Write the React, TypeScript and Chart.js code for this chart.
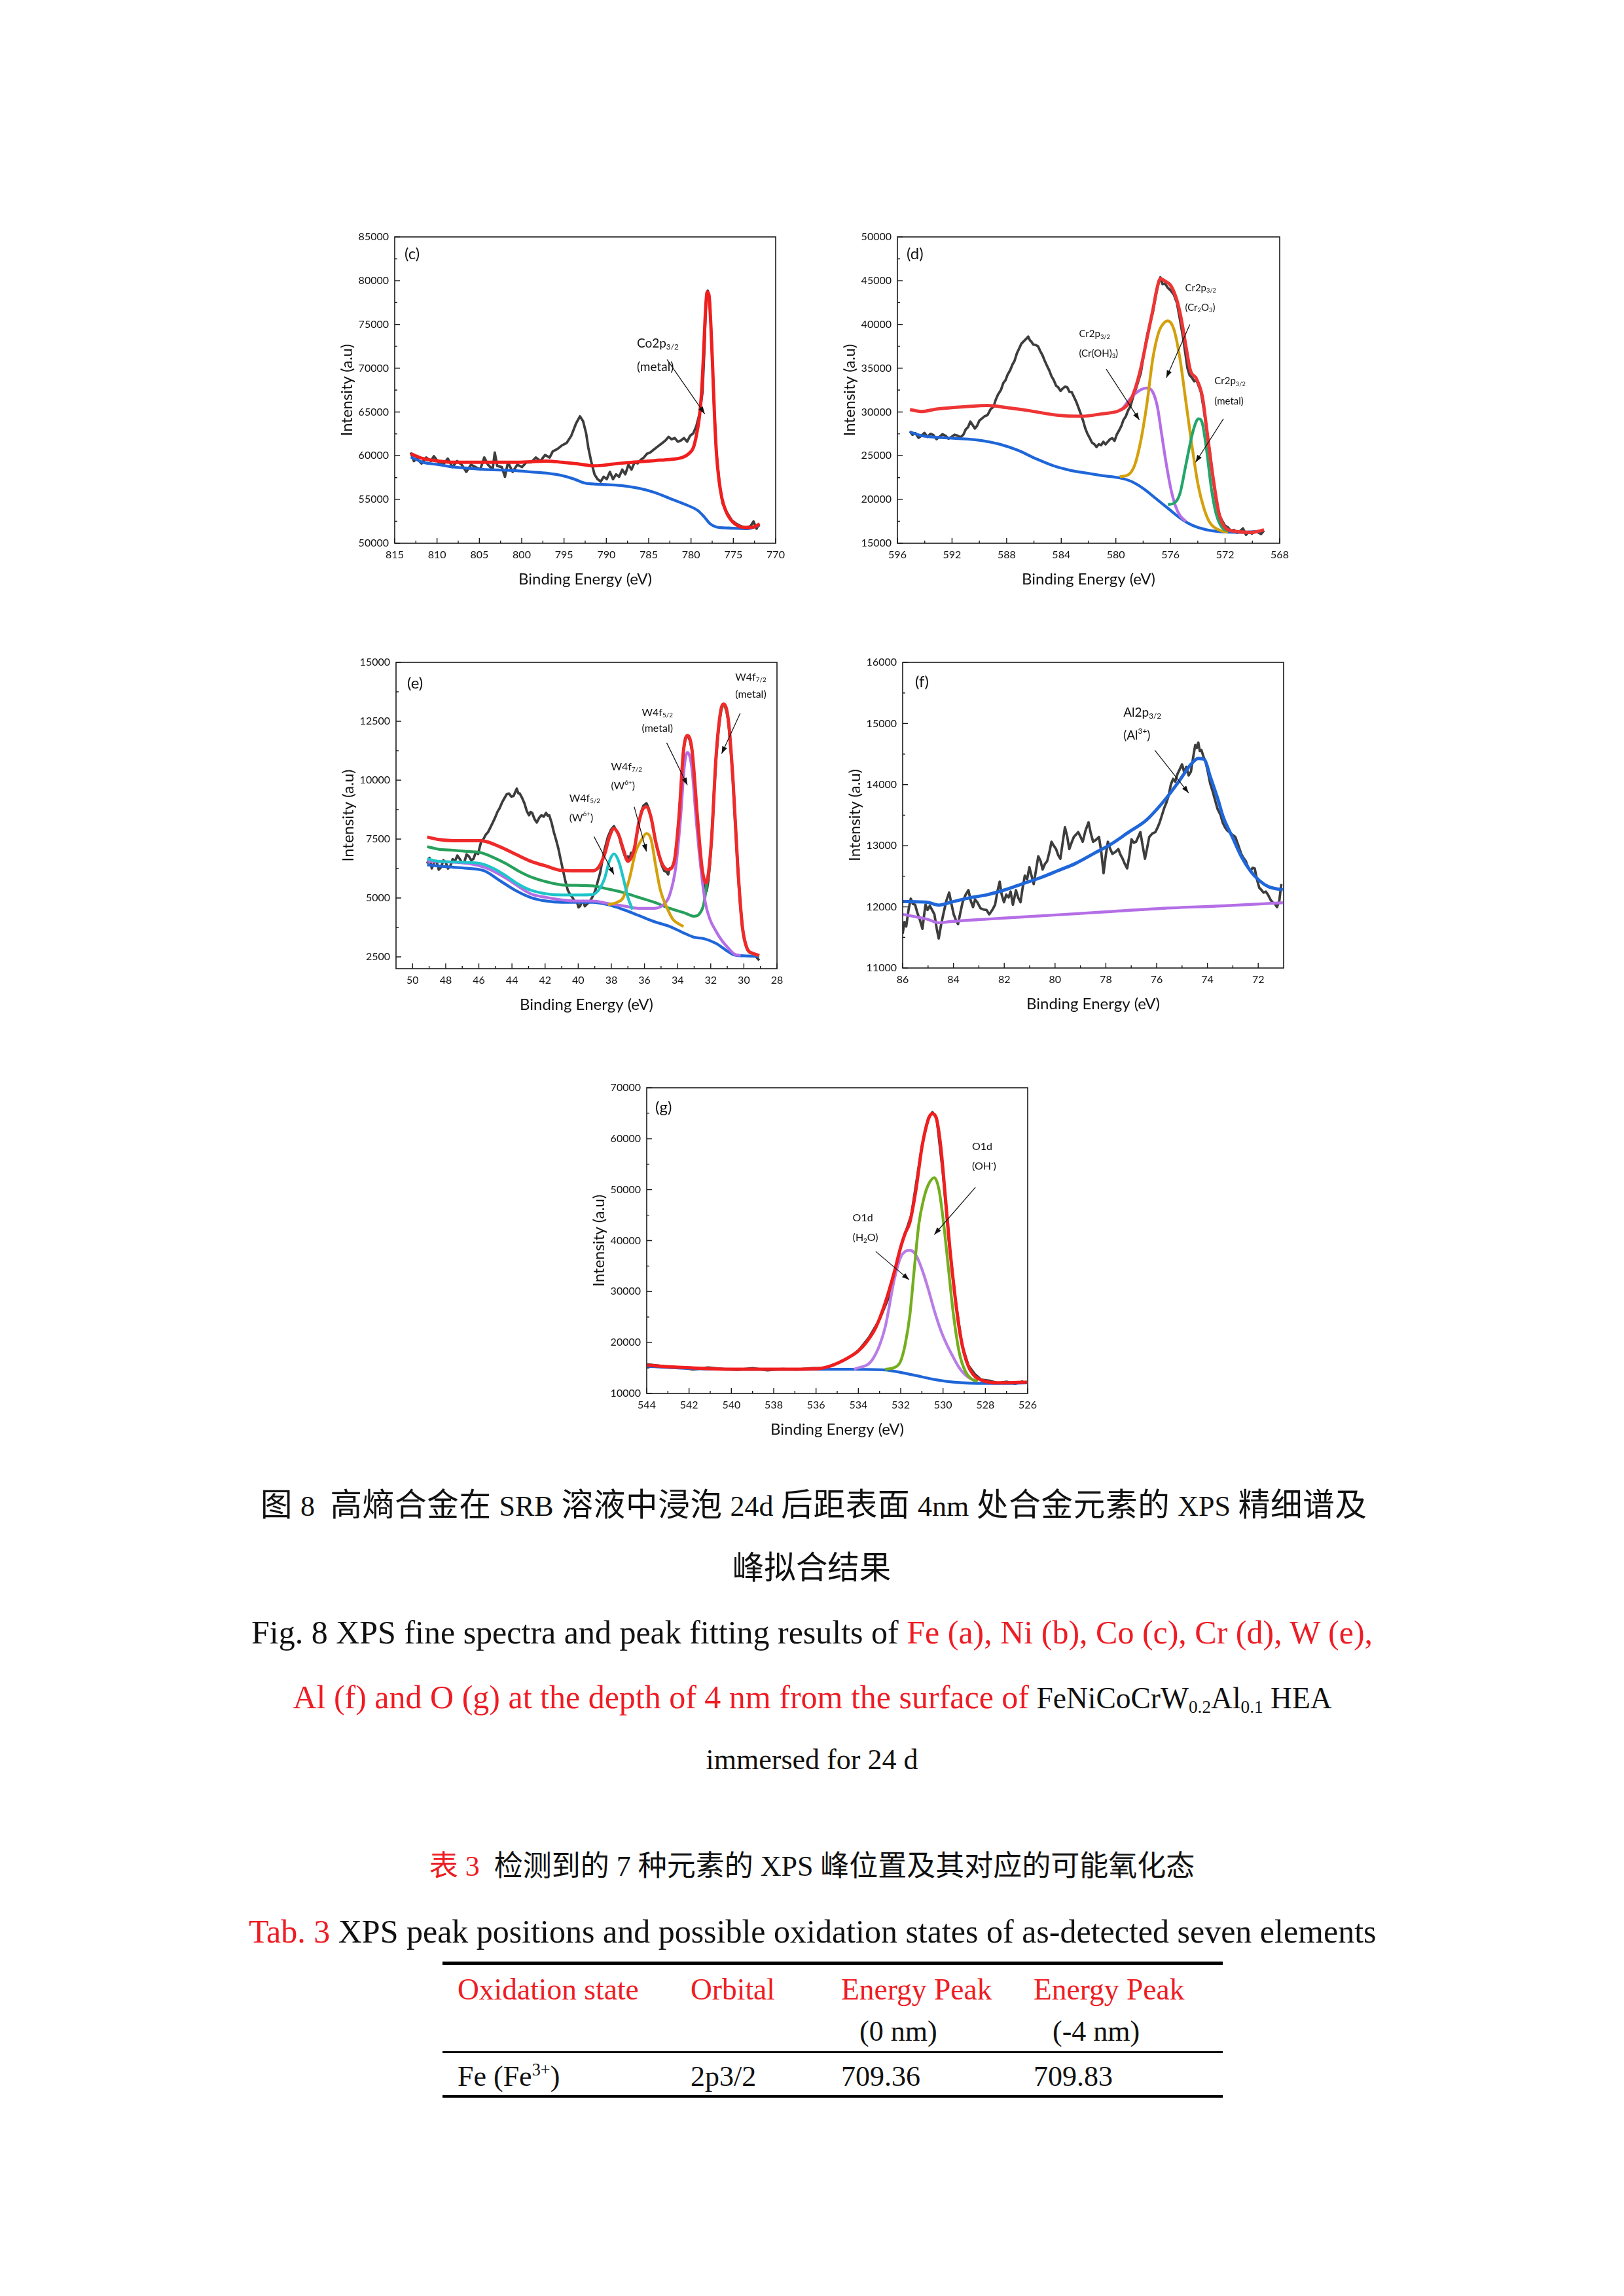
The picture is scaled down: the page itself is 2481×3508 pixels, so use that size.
import React, { useEffect, useRef } from 'react';
import { Chart, registerables } from 'chart.js';
Chart.register(...registerables);

const FONT = 'Lato, "Noto Sans", sans-serif';
const SERIF = '"Liberation Serif", "Times New Roman", "Noto Sans CJK SC", serif';
const RED_TXT = '#ee1c24';
const PAD_L = 100, PAD_R = 30, PAD_T = 25, PAD_B = 85;

const C_RAW = '#3d3d3d';
const C_RED = '#f01e1e';
const C_BLUE = '#1f66d9';
const C_PURPLE = '#b46ee6';
const C_GOLD = '#d4a00b';
const C_GREEN_D = '#23a56b';
const C_GREEN_E = '#27a05c';
const C_GREEN_G = '#74ae1e';
const C_CYAN = '#1ec5c9';

// ---------- (c) Co 2p ----------
const coXTicks = [815, 810, 805, 800, 795, 790, 785, 780, 775, 770];
const coYTicks = [50000, 55000, 60000, 65000, 70000, 75000, 80000, 85000];
const coRaw = [[813.10,60360],[812.74,59390],[812.37,59670],[811.83,59115],[811.28,59800],[810.73,59390],[810.37,59940],[809.82,59250],[809.27,58980],[808.73,59670],[808.18,58700],[807.63,59390],[807.09,58980],[806.54,58150],[805.99,58980],[805.45,58700],[804.90,58420],[804.42,59800],[803.99,58980],[803.44,58420],[803.18,60360],[802.89,58840],[802.35,58700],[801.98,57600],[801.62,59250],[801.07,58150],[800.52,58980],[799.97,58700],[799.43,59250],[798.88,59250],[798.33,59800],[797.79,59390],[797.24,60080],[796.69,59800],[796.33,60500],[795.78,60770],[795.23,61190],[794.69,61460],[794.14,62290],[793.59,63670],[793.12,64500],[792.75,63950],[792.39,62570],[792.13,60910],[791.77,59250],[791.40,57870],[791.04,57320],[790.67,57040],[790.31,57600],[789.95,57320],[789.58,58150],[789.22,57320],[788.85,57870],[788.49,57600],[788.12,58420],[787.76,57870],[787.39,58980],[787.03,58420],[786.66,59250],[786.30,59120],[785.93,59530],[785.57,59800],[785.20,60220],[784.84,60360],[784.48,60630],[784.11,60910],[783.75,61190],[783.38,61460],[783.02,61740],[782.65,62150],[782.29,61880],[781.92,62020],[781.56,61600],[781.19,61740],[780.83,62020],[780.46,61600],[780.10,62290],[779.73,62570],[779.37,63390],[779.00,64780],[778.64,67260],[778.39,72790],[778.24,77480],[778.02,78860],[777.80,77760],[777.55,72790],[777.29,65880],[777.00,60360],[776.63,56770],[776.27,54560],[775.72,53450],[775.18,52620],[774.63,52210],[774.08,51930],[773.53,51800],[772.99,51930],[772.62,52490],[772.26,51660],[771.97,52210]];
const coFit = [[813.10,60220],[811.64,59670],[809.82,59390],[808.00,59250],[806.17,59250],[804.35,59250],[802.53,59250],[800.70,59250],[798.88,59310],[797.06,59390],[795.23,59250],[793.77,59110],[792.68,58980],[791.59,58840],[790.49,58890],[789.40,59030],[787.94,59170],[786.12,59310],[784.29,59450],[782.47,59580],[781.01,59800],[780.28,60220],[779.73,60910],[779.37,62290],[779.00,64500],[778.75,67260],[778.53,71410],[778.31,76100],[778.09,78720],[777.87,78310],[777.66,75000],[777.44,70020],[777.22,64500],[777.00,60360],[776.71,57320],[776.34,55110],[775.91,53730],[775.36,52760],[774.81,52210],[774.08,51850],[773.35,51800],[772.62,51850],[771.89,52210]];
const coBkg = [[813.10,59860],[811.64,59250],[809.82,58980],[808.00,58700],[806.17,58560],[804.35,58420],[802.53,58370],[800.70,58290],[798.88,58150],[797.06,58010],[795.23,57730],[793.77,57320],[792.68,56910],[791.59,56770],[789.76,56680],[787.94,56550],[786.12,56270],[784.29,55800],[782.47,55110],[780.65,54420],[779.19,53730],[778.46,53040],[777.73,52210],[777.00,51850],[775.54,51740],[773.35,51660],[771.89,52070]];

// ---------- (d) Cr 2p ----------
const crXTicks = [596, 592, 588, 584, 580, 576, 572, 568];
const crYTicks = [15000, 20000, 25000, 30000, 35000, 40000, 45000, 50000];
const crRaw = [[595.08,27790],[594.90,27400],[594.68,27570],[594.45,27050],[594.24,27290],[594.02,27600],[593.80,27150],[593.58,27500],[593.36,27350],[593.14,26900],[592.92,27150],[592.70,27450],[592.48,27290],[592.26,26950],[592.04,27150],[591.82,27400],[591.60,27290],[591.38,27100],[591.16,27430],[591.00,28000],[590.83,28260],[590.66,28900],[590.50,28530],[590.33,28100],[590.17,28400],[590.00,29000],[589.84,29220],[589.62,29500],[589.40,29640],[589.18,30300],[588.96,30610],[588.80,31400],[588.63,31990],[588.41,32540],[588.25,33300],[588.08,33640],[587.92,34300],[587.75,34750],[587.58,35400],[587.42,35850],[587.25,36700],[587.09,37230],[586.92,37800],[586.76,38060],[586.60,38300],[586.42,38620],[586.30,38200],[586.20,38060],[586.05,37700],[585.87,37650],[585.70,37500],[585.54,36960],[585.38,36500],[585.21,35850],[585.05,35300],[584.88,34750],[584.72,34100],[584.55,33640],[584.38,33000],[584.22,32810],[584.05,32400],[583.89,32680],[583.72,32900],[583.56,32810],[583.40,32300],[583.23,32260],[583.06,31700],[582.90,31160],[582.74,30500],[582.57,29780],[582.40,29000],[582.24,28120],[582.08,27500],[581.91,27010],[581.75,26500],[581.58,26320],[581.42,26000],[581.25,26320],[581.08,26200],[580.92,26600],[580.75,26300],[580.59,26600],[580.42,26900],[580.26,27010],[580.10,26700],[579.93,27430],[579.76,27900],[579.60,28400],[579.44,29100],[579.27,29500],[579.10,30200],[578.94,30610],[578.78,31500],[578.61,32260],[578.40,33300],[578.17,34470],[577.95,36600],[577.73,38620],[577.51,40100],[577.29,41380],[577.12,42900],[576.96,44140],[576.85,44900],[576.74,45380],[576.58,44600],[576.41,44690],[576.20,44200],[575.97,43860],[575.75,43400],[575.53,42480],[575.31,40600],[575.09,38620],[574.92,36800],[574.76,35020],[574.60,34200],[574.43,33920],[574.26,33500],[574.10,33640],[573.94,33000],[573.77,32260],[573.55,30200],[573.33,27700],[573.11,25360],[572.89,22500],[572.67,19830],[572.45,18300],[572.23,17620],[572.01,17000],[571.79,16800],[571.57,16400],[571.35,16520],[571.13,16200],[570.91,16380],[570.69,16700],[570.47,15970],[570.25,16300],[570.03,16100],[569.81,16350],[569.59,16240],[569.37,16050],[569.15,16460]];
const crFit = [[595.08,30270],[594.24,30050],[593.14,30330],[590.94,30610],[589.40,30740],[588.08,30520],[586.54,30190],[584.33,29640],[582.57,29500],[581.03,29780],[579.71,30190],[579.05,31020],[578.61,32540],[578.17,35020],[577.73,38340],[577.29,41650],[576.96,44280],[576.74,45240],[576.41,44970],[575.97,44420],[575.53,42760],[575.20,40550],[574.87,37510],[574.54,34750],[574.10,33780],[573.66,31710],[573.33,27840],[572.89,22600],[572.45,18450],[572.01,16800],[571.35,16380],[570.03,16240],[569.15,16520]];
const crOH = [[579.60,30190],[578.83,31710],[578.17,32540],[577.73,32730],[577.29,32260],[576.96,30610],[576.63,27290],[576.30,23980],[575.97,21210],[575.64,19280],[575.31,18180],[574.87,17490]];
const crOx = [[579.71,22600],[579.05,22870],[578.61,23980],[578.17,26740],[577.73,30880],[577.29,36130],[576.85,39170],[576.41,40270],[576.19,40410],[575.75,39440],[575.31,36130],[574.87,31160],[574.43,26190],[573.99,21770],[573.55,19000],[573.11,17350],[572.45,16520],[571.79,16240]];
const crMet = [[576.19,19420],[575.75,19560],[575.31,20660],[574.87,23980],[574.43,27290],[574.10,28950],[573.94,29220],[573.66,28670],[573.33,25360],[573.00,21210],[572.67,18450],[572.23,16800],[571.79,16380]];
const crBkg = [[595.08,27710],[594.24,27290],[592.04,27010],[589.84,26740],[588.52,26320],[587.20,25630],[585.87,24670],[584.55,23840],[583.23,23290],[582.13,23010],[581.03,22730],[579.71,22460],[578.83,22040],[577.95,21210],[577.07,20110],[576.19,19000],[575.31,17900],[574.43,17070],[573.33,16520],[572.23,16300],[571.13,16240],[569.37,16380]];

// ---------- (e) W 4f ----------
const wXTicks = [50, 48, 46, 44, 42, 40, 38, 36, 34, 32, 30, 28];
const wYTicks = [2500, 5000, 7500, 10000, 12500, 15000];
const wRaw = [[49.12,6459],[48.98,6700],[48.84,6254],[48.70,6500],[48.56,6561],[48.42,6200],[48.28,6305],[48.14,6600],[48.00,6510],[47.86,6250],[47.72,6356],[47.58,6650],[47.44,6561],[47.30,6800],[47.16,6664],[47.02,6500],[46.88,6510],[46.74,6850],[46.60,6767],[46.46,6600],[46.32,6664],[46.18,6950],[46.04,6869],[45.95,7150],[45.86,7382],[45.72,7500],[45.58,7690],[45.44,7800],[45.30,7997],[45.16,8200],[45.02,8407],[44.88,8650],[44.74,8818],[44.60,9050],[44.46,9228],[44.32,9400],[44.18,9433],[44.04,9300],[43.90,9330],[43.80,9500],[43.71,9638],[43.62,9450],[43.53,9433],[43.39,9250],[43.25,9023],[43.11,8700],[42.97,8510],[42.88,8650],[42.78,8612],[42.64,8350],[42.50,8202],[42.36,8400],[42.22,8510],[42.08,8450],[41.94,8612],[41.85,8500],[41.75,8510],[41.61,8200],[41.47,7792],[41.33,7450],[41.19,7074],[41.05,6600],[40.91,6151],[40.77,5700],[40.63,5331],[40.49,5150],[40.35,5023],[40.21,4850],[40.07,4818],[39.98,4600],[39.88,4664],[39.79,4850],[39.70,4869],[39.60,4650],[39.51,4715],[39.38,4800],[39.24,4920],[39.10,5100],[38.96,5331],[38.82,5700],[38.68,6049],[38.54,6600],[38.40,7074],[38.21,7587],[38.02,7895],[37.84,8049],[37.70,7850],[37.56,7690],[37.42,7300],[37.28,6972],[37.14,6700],[37.00,6767],[36.90,6600],[36.81,6920],[36.72,6850],[36.62,7074],[36.48,7600],[36.34,8202],[36.20,8650],[36.06,8920],[35.88,9023],[35.74,8800],[35.60,8407],[35.46,7900],[35.32,7382],[35.13,6800],[34.94,6356],[34.80,6150],[34.66,6100],[34.57,6000],[34.48,6254],[34.34,6300],[34.20,6561],[34.06,7300],[33.92,8407],[33.78,9900],[33.64,11280],[33.52,11800],[33.40,11895],[33.27,11700],[33.13,11280],[32.97,9900],[32.80,8407],[32.66,7100],[32.52,5946],[32.42,5600],[32.33,5433],[32.24,5300],[32.14,5741],[32.05,6400],[31.96,7382],[31.82,9200],[31.68,10972],[31.54,12100],[31.40,12920],[31.30,13150],[31.21,13228],[31.07,13000],[30.93,12510],[30.79,11300],[30.65,9946],[30.51,8100],[30.37,6356],[30.23,4900],[30.09,3792],[29.95,3200],[29.81,2869],[29.63,2700],[29.44,2644],[29.26,2500],[29.07,2356]];
const wFit = [[49.12,7587],[48.47,7484],[47.54,7433],[46.60,7433],[45.86,7433],[45.49,7382],[44.74,7177],[43.81,6869],[42.87,6561],[41.94,6356],[41.01,6172],[40.07,6151],[39.14,6151],[38.77,6305],[38.40,6869],[38.12,7587],[37.84,7946],[37.56,7690],[37.28,7074],[37.00,6561],[36.62,7074],[36.34,8202],[36.06,8818],[35.88,8869],[35.60,8407],[35.32,7382],[34.94,6459],[34.57,6202],[34.20,6561],[33.92,8407],[33.64,11280],[33.40,11895],[33.13,11280],[32.80,8407],[32.52,6254],[32.28,5638],[31.96,7382],[31.68,10972],[31.40,12920],[31.21,13228],[30.93,12510],[30.65,9946],[30.37,6356],[30.09,3792],[29.81,2869],[29.44,2644],[29.07,2562]];
const wMet72 = [[49.12,7177],[48.47,7074],[47.54,7023],[46.60,6972],[45.86,6920],[45.11,6715],[44.37,6459],[43.62,6151],[42.87,5895],[41.94,5690],[41.01,5556],[40.07,5536],[39.14,5515],[38.21,5382],[37.28,5228],[36.34,5023],[35.41,4818],[34.48,4561],[33.54,4356],[32.99,4223],[32.71,4305],[32.43,4715],[32.24,5536],[32.05,6561],[31.96,7382],[31.68,10900],[31.40,12850],[31.21,13150],[30.93,12450],[30.65,9900],[30.37,6300],[30.09,3750],[29.81,2850],[29.44,2630],[29.07,2550]];
const wW652 = [[49.12,6664],[48.47,6561],[46.60,6510],[45.86,6459],[45.11,6254],[44.37,5946],[43.62,5587],[42.87,5331],[41.94,5177],[41.01,5126],[40.07,5126],[39.14,5146],[38.77,5331],[38.40,5844],[38.12,6561],[37.84,6869],[37.56,6561],[37.28,5844],[37.00,5023],[36.72,4510]];
const wMet52 = [[49.12,6561],[46.60,6459],[45.49,6254],[44.37,5844],[42.87,5177],[41.94,5023],[41.01,4920],[40.07,4869],[39.14,4869],[38.21,4767],[37.28,4664],[36.34,4561],[35.41,4561],[34.85,4715],[34.48,5126],[34.10,6356],[33.82,8407],[33.58,10664],[33.40,11177],[33.13,10459],[32.89,8407],[32.61,6356],[32.33,4818],[32.05,4100],[31.68,3587],[31.31,3177],[30.93,2869],[30.56,2613],[30.19,2562]];
const wW672 = [[38.21,4715],[37.65,4818],[37.28,5023],[36.90,5844],[36.53,6972],[36.16,7484],[35.88,7741],[35.60,7484],[35.32,6356],[35.04,5331],[34.66,4613],[34.29,4100],[33.92,3895],[33.64,3792]];
const wBkg = [[49.12,6408],[48.47,6356],[47.54,6305],[46.60,6254],[45.67,6151],[44.74,5741],[43.81,5331],[42.87,5023],[41.94,4869],[41.01,4818],[40.07,4818],[39.14,4818],[38.21,4715],[37.28,4510],[36.34,4254],[35.41,3997],[34.48,3792],[33.54,3485],[32.99,3331],[32.43,3279],[31.68,3074],[30.93,2715],[30.56,2582],[29.81,2541],[29.07,2521]];

// ---------- (f) Al 2p ----------
const alXTicks = [86, 84, 82, 80, 78, 76, 74, 72];
const alYTicks = [11000, 12000, 13000, 14000, 15000, 16000];
const alRaw = [[86.00,11562],[85.93,11750],[85.86,11680],[85.77,11950],[85.68,12135],[85.60,12050],[85.51,12036],[85.42,11900],[85.33,11799],[85.22,11641],[85.16,11850],[85.10,12036],[85.02,11950],[84.93,12017],[84.84,11950],[84.75,11878],[84.66,11650],[84.58,11483],[84.49,11700],[84.40,11878],[84.28,12100],[84.17,12234],[84.08,12050],[83.99,11878],[83.90,11780],[83.82,11720],[83.73,11900],[83.64,12076],[83.52,12200],[83.41,12274],[83.32,12100],[83.23,11997],[83.15,12120],[83.06,12076],[82.94,11980],[82.82,11957],[82.70,11950],[82.59,11878],[82.47,11950],[82.36,12036],[82.27,12250],[82.18,12412],[82.10,12200],[82.01,12076],[81.92,12200],[81.83,12155],[81.75,12250],[81.66,12036],[81.60,12150],[81.54,12274],[81.45,12150],[81.36,12076],[81.28,12300],[81.19,12511],[81.10,12450],[81.01,12650],[80.92,12500],[80.84,12373],[80.75,12600],[80.66,12828],[80.57,12750],[80.49,12610],[80.40,12700],[80.31,12749],[80.22,12900],[80.14,13065],[80.05,13000],[79.96,12946],[79.88,12850],[79.79,12788],[79.70,13050],[79.61,13302],[79.52,13150],[79.44,12946],[79.35,13050],[79.26,13144],[79.18,13180],[79.09,13223],[79.00,13150],[78.91,13065],[78.80,13250],[78.68,13382],[78.59,13200],[78.50,13065],[78.38,13100],[78.27,13144],[78.18,12900],[78.09,12551],[78.00,12850],[77.92,13065],[77.83,12950],[77.74,12867],[77.62,12900],[77.51,12946],[77.42,12850],[77.34,12788],[77.25,12700],[77.16,12630],[77.07,12850],[76.99,13105],[76.90,13050],[76.81,13065],[76.72,13150],[76.64,13223],[76.55,13000],[76.46,12788],[76.38,12950],[76.29,13144],[76.17,13200],[76.05,13223],[75.96,13300],[75.88,13382],[75.79,13500],[75.70,13619],[75.62,13700],[75.53,13817],[75.44,14000],[75.35,14094],[75.27,14050],[75.18,14173],[75.09,14250],[75.00,14331],[74.91,14200],[74.83,14291],[74.74,14150],[74.65,14212],[74.56,14450],[74.48,14647],[74.42,14600],[74.36,14687],[74.30,14550],[74.24,14568],[74.15,14450],[74.07,14371],[73.98,14200],[73.89,14014],[73.80,13900],[73.72,13777],[73.60,13600],[73.48,13500],[73.40,13380],[73.31,13302],[73.22,13250],[73.13,13223],[73.02,13180],[72.90,13144],[72.78,13000],[72.67,12867],[72.58,12800],[72.49,12749],[72.40,12650],[72.31,12590],[72.22,12640],[72.14,12630],[72.05,12450],[71.96,12313],[71.88,12280],[71.79,12234],[71.70,12250],[71.61,12195],[71.52,12120],[71.44,12076],[71.35,12050],[71.26,11997],[71.17,12100],[71.09,12373]];
const alFit = [[86.00,12088],[85.04,12076],[84.58,12029],[84.11,12076],[83.29,12155],[82.71,12195],[82.01,12274],[81.31,12373],[80.61,12472],[79.90,12590],[79.20,12709],[78.50,12867],[77.80,13025],[77.10,13223],[76.40,13421],[75.70,13738],[75.12,14054],[74.65,14331],[74.36,14430],[74.12,14410],[73.89,14133],[73.60,13777],[73.37,13461],[73.02,13144],[72.67,12828],[72.31,12590],[71.96,12432],[71.61,12333],[71.26,12294],[71.03,12282]];
const alBkg = [[86.00,11878],[85.51,11839],[85.04,11799],[84.58,11740],[84.11,11760],[82.71,11799],[80.37,11858],[78.04,11918],[75.70,11977],[73.37,12017],[71.03,12068]];

// ---------- (g) O 1s ----------
const oXTicks = [544, 542, 540, 538, 536, 534, 532, 530, 528, 526];
const oYTicks = [10000, 20000, 30000, 40000, 50000, 60000, 70000];
const oRaw = [[543.97,15700],[543.20,15350],[542.40,15100],[541.80,14700],[541.10,15100],[540.40,14800],[539.70,14650],[539.00,14950],[538.30,14550],[537.60,14800],[536.90,14700],[536.20,14950],[535.60,15000],[535.00,15900],[534.50,16900],[534.00,18400],[533.50,21000],[533.00,24500],[532.50,29500],[532.00,38800],[531.50,45000],[531.00,58500],[530.70,64000],[530.50,65200],[530.30,64000],[530.00,53000],[529.70,39000],[529.40,28000],[529.10,19500],[528.80,15500],[528.50,13800],[528.20,12700],[527.80,12500],[527.40,12000],[527.00,12300],[526.60,11900],[526.20,12400]];
const oFit = [[543.97,15554],[542.95,15222],[541.49,14937],[540.03,14747],[538.57,14747],[537.12,14747],[535.95,14842],[535.37,15317],[534.93,16030],[534.49,16980],[534.05,18165],[533.62,20060],[533.18,22912],[532.74,27660],[532.30,33830],[532.01,38577],[531.79,41425],[531.57,43560],[531.28,49970],[530.99,58514],[530.70,63736],[530.52,64923],[530.33,64210],[530.11,58514],[529.90,49020],[529.68,38577],[529.46,30033],[529.24,22912],[529.02,18165],[528.80,15317],[528.51,13418],[528.07,12468],[527.49,12089],[526.91,12089],[526.03,12231]];
const oOH = [[532.74,14747],[532.30,15079],[532.01,16266],[531.79,19589],[531.57,25285],[531.35,34779],[531.14,43324],[530.92,48071],[530.70,50919],[530.41,52343],[530.19,49970],[529.97,43324],[529.75,34779],[529.53,26235],[529.24,18165],[528.95,14367],[528.66,12848],[528.36,12373]];
const oH2O = [[534.20,14747],[533.32,16741],[532.74,22912],[532.30,32406],[532.01,36678],[531.79,37865],[531.57,38102],[531.28,37153],[530.99,34305],[530.70,30507],[530.41,26235],[530.11,22437],[529.82,19589],[529.53,17215],[529.24,15079],[528.95,13655],[528.66,12848],[528.36,12468]];
const oBkg = [[543.97,15317],[541.49,14842],[538.57,14747],[535.66,14747],[534.20,14747],[532.74,14605],[532.01,14130],[531.28,13513],[530.55,12848],[529.82,12373],[529.09,12089],[528.36,11994],[526.91,11994],[526.03,12089]];

type Seg = { t: string; sub?: boolean; sup?: boolean };
type AnnLine = { y: number; segs: Seg[] };
type Ann = { x: number; lines: AnnLine[]; arrow: number[]; size: number };
type Series = { data: number[][]; color: string; width: number; raw?: boolean; order: number };
type Panel = {
  label: string; L: number; T: number; W: number; H: number;
  xMin: number; xMax: number; yMin: number; yMax: number;
  xTicks: number[]; yTicks: number[]; series: Series[]; anns: Ann[];
  labelDx: number; labelDy: number;
};

const p32: Seg = { t: '3/2', sub: true };
const RAW_W = 3.8, FIT_W = 5, COMP_W = 4.3;

const panels: Panel[] = [
  {
    label: 'c', L: 603, T: 362, W: 582, H: 468, xMin: 770, xMax: 815, yMin: 50000, yMax: 85000,
    xTicks: coXTicks, yTicks: coYTicks, labelDx: 15, labelDy: 26,
    series: [
      { data: coFit, color: C_RED, width: FIT_W, order: 0 },
      { data: coBkg, color: C_BLUE, width: COMP_W, order: 1 },
      { data: coRaw, color: C_RAW, width: RAW_W, raw: true, order: 2 },
    ],
    anns: [
      { x: 786.4, size: 19, arrow: [782.83, 70990, 778.38, 64780], lines: [
        { y: 72790, segs: [{ t: 'Co2p' }, p32] }, { y: 70160, segs: [{ t: '(metal)' }] }] },
    ],
  },
  {
    label: 'd', L: 1371, T: 362, W: 584, H: 468, xMin: 568, xMax: 596, yMin: 15000, yMax: 50000,
    xTicks: crXTicks, yTicks: crYTicks, labelDx: 14, labelDy: 26,
    series: [
      { data: crFit, color: '#ee3535', width: FIT_W, order: 0 },
      { data: crMet, color: C_GREEN_D, width: COMP_W, order: 1 },
      { data: crOx, color: C_GOLD, width: COMP_W, order: 2 },
      { data: crOH, color: C_PURPLE, width: COMP_W, order: 3 },
      { data: crBkg, color: C_BLUE, width: COMP_W, order: 4 },
      { data: crRaw, color: C_RAW, width: RAW_W, raw: true, order: 5 },
    ],
    anns: [
      { x: 582.7, size: 15, arrow: [580.70, 34886, 578.28, 29086], lines: [
        { y: 38890, segs: [{ t: 'Cr2p' }, p32] }, { y: 36680, segs: [{ t: '(Cr(OH)' }, { t: '3', sub: true }, { t: ')' }] }] },
      { x: 574.93, size: 15, arrow: [574.58, 39996, 576.30, 33920], lines: [
        { y: 44190, segs: [{ t: 'Cr2p' }, p32] }, { y: 41930, segs: [{ t: '(Cr' }, { t: '2', sub: true }, { t: 'O' }, { t: '3', sub: true }, { t: ')' }] }] },
      { x: 572.78, size: 15, arrow: [572.12, 29224, 574.16, 24253], lines: [
        { y: 33505, segs: [{ t: 'Cr2p' }, p32] }, { y: 31210, segs: [{ t: '(metal)' }] }] },
    ],
  },
  {
    label: 'e', L: 605, T: 1012, W: 582, H: 468, xMin: 28, xMax: 51, yMin: 2000, yMax: 15000,
    xTicks: wXTicks, yTicks: wYTicks, labelDx: 17, labelDy: 32,
    series: [
      { data: wFit, color: '#ef2a2a', width: FIT_W, order: 0 },
      { data: wW652, color: C_CYAN, width: COMP_W, order: 1 },
      { data: wW672, color: C_GOLD, width: COMP_W, order: 2 },
      { data: wMet52, color: C_PURPLE, width: COMP_W, order: 3 },
      { data: wMet72, color: C_GREEN_E, width: COMP_W, order: 4 },
      { data: wBkg, color: C_BLUE, width: COMP_W, order: 5 },
      { data: wRaw, color: C_RAW, width: RAW_W, raw: true, order: 6 },
    ],
    anns: [
      { x: 40.54, size: 16, arrow: [39.05, 7607, 37.84, 5997], lines: [
        { y: 9228, segs: [{ t: 'W4f' }, { t: '5/2', sub: true }] }, { y: 8407, segs: [{ t: '(W' }, { t: '6+', sup: true }, { t: ')' }] }] },
      { x: 38.02, size: 16, arrow: [36.62, 8869, 35.88, 6972], lines: [
        { y: 10561, segs: [{ t: 'W4f' }, { t: '7/2', sub: true }] }, { y: 9741, segs: [{ t: '(W' }, { t: '6+', sup: true }, { t: ')' }] }] },
      { x: 36.16, size: 16, arrow: [34.66, 11587, 33.41, 9792], lines: [
        { y: 12869, segs: [{ t: 'W4f' }, { t: '5/2', sub: true }] }, { y: 12202, segs: [{ t: '(metal)' }] }] },
      { x: 30.52, size: 16, arrow: [30.22, 12838, 31.34, 11125], lines: [
        { y: 14377, segs: [{ t: 'W4f' }, { t: '7/2', sub: true }] }, { y: 13638, segs: [{ t: '(metal)' }] }] },
    ],
  },
  {
    label: 'f', L: 1379, T: 1012, W: 582, H: 467, xMin: 71, xMax: 86, yMin: 11000, yMax: 16000,
    xTicks: alXTicks, yTicks: alYTicks, labelDx: 19, labelDy: 30,
    series: [
      { data: alFit, color: C_BLUE, width: FIT_W, order: 0 },
      { data: alBkg, color: C_PURPLE, width: COMP_W, order: 1 },
      { data: alRaw, color: C_RAW, width: RAW_W, raw: true, order: 2 },
    ],
    anns: [
      { x: 77.31, size: 19, arrow: [76.07, 14560, 74.74, 13864], lines: [
        { y: 15182, segs: [{ t: 'Al2p' }, p32] }, { y: 14806, segs: [{ t: '(Al' }, { t: '3+', sup: true }, { t: ')' }] }] },
    ],
  },
  {
    label: 'g', L: 988, T: 1662, W: 582, H: 467, xMin: 526, xMax: 544, yMin: 10000, yMax: 70000,
    xTicks: oXTicks, yTicks: oYTicks, labelDx: 13, labelDy: 30,
    series: [
      { data: oFit, color: C_RED, width: FIT_W, order: 0 },
      { data: oOH, color: C_GREEN_G, width: COMP_W, order: 1 },
      { data: oH2O, color: '#b97de6', width: COMP_W, order: 2 },
      { data: oBkg, color: C_BLUE, width: COMP_W, order: 3 },
      { data: oRaw, color: C_RAW, width: RAW_W, raw: true, order: 4 },
    ],
    anns: [
      { x: 534.27, size: 16, arrow: [533.18, 37865, 531.60, 32311], lines: [
        { y: 44511, segs: [{ t: 'O1d' }] }, { y: 40571, segs: [{ t: '(H' }, { t: '2', sub: true }, { t: 'O)' }] }] },
      { x: 528.63, size: 16, arrow: [528.47, 50444, 530.41, 41188], lines: [
        { y: 58419, segs: [{ t: 'O1d' }] }, { y: 54622, segs: [{ t: '(OH' }, { t: '-', sup: true }, { t: ')' }] }] },
    ],
  },
];

function decor(p: Panel) {
  return {
    id: 'decor_' + p.label,
    afterDraw(chart: any) {
      const { ctx, chartArea: a } = chart;
      const xs = chart.scales.x, ys = chart.scales.y;
      ctx.save();
      ctx.strokeStyle = '#1a1a1a';
      ctx.lineWidth = 1.6;
      ctx.strokeRect(a.left, a.top, a.right - a.left, a.bottom - a.top);
      ctx.beginPath();
      ctx.lineWidth = 1.4;
      p.xTicks.forEach((v, i) => {
        const px = xs.getPixelForValue(v);
        ctx.moveTo(px, a.bottom); ctx.lineTo(px, a.bottom - 8);
        if (i < p.xTicks.length - 1) {
          const m = xs.getPixelForValue((v + p.xTicks[i + 1]) / 2);
          ctx.moveTo(m, a.bottom); ctx.lineTo(m, a.bottom - 4);
        }
      });
      p.yTicks.forEach((v, i) => {
        const py = ys.getPixelForValue(v);
        ctx.moveTo(a.left, py); ctx.lineTo(a.left + 8, py);
        if (i < p.yTicks.length - 1) {
          const m = ys.getPixelForValue((v + p.yTicks[i + 1]) / 2);
          ctx.moveTo(a.left, m); ctx.lineTo(a.left + 4, m);
        }
      });
      ctx.stroke();
      ctx.fillStyle = '#111';
      ctx.textBaseline = 'middle';
      ctx.textAlign = 'left';
      ctx.font = `24px ${FONT}`;
      ctx.fillText(`(${p.label})`, a.left + p.labelDx, a.top + p.labelDy);
      for (const an of p.anns) {
        const x0 = xs.getPixelForValue(an.x);
        for (const ln of an.lines) {
          let x = x0;
          const y = ys.getPixelForValue(ln.y);
          for (const s of ln.segs) {
            const small = s.sub || s.sup;
            const sz = small ? an.size * 0.62 : an.size;
            ctx.font = `${sz}px ${FONT}`;
            const dy = s.sub ? an.size * 0.28 : s.sup ? -an.size * 0.32 : 0;
            ctx.fillText(s.t, x, y + dy);
            x += ctx.measureText(s.t).width;
          }
        }
        const [ax1, ay1, ax2, ay2] = an.arrow;
        const x1 = xs.getPixelForValue(ax1), y1 = ys.getPixelForValue(ay1);
        const x2 = xs.getPixelForValue(ax2), y2 = ys.getPixelForValue(ay2);
        ctx.strokeStyle = '#111';
        ctx.lineWidth = 1.2;
        ctx.beginPath(); ctx.moveTo(x1, y1); ctx.lineTo(x2, y2); ctx.stroke();
        const ang = Math.atan2(y2 - y1, x2 - x1);
        const hl = 11, hw = 4;
        ctx.beginPath();
        ctx.moveTo(x2, y2);
        ctx.lineTo(x2 - hl * Math.cos(ang) + hw * Math.sin(ang), y2 - hl * Math.sin(ang) - hw * Math.cos(ang));
        ctx.lineTo(x2 - hl * Math.cos(ang) - hw * Math.sin(ang), y2 - hl * Math.sin(ang) + hw * Math.cos(ang));
        ctx.closePath();
        ctx.fill();
      }
      ctx.restore();
    },
  };
}

function makeConfig(p: Panel): any {
  return {
    type: 'line',
    data: {
      datasets: p.series.map((s) => ({
        data: s.data.map(([x, y]) => ({ x, y })),
        borderColor: s.color,
        borderWidth: s.width,
        pointRadius: 0,
        fill: false,
        tension: 0,
        borderJoinStyle: 'round',
        cubicInterpolationMode: s.raw ? 'default' : 'monotone',
        order: s.order,
      })),
    },
    options: {
      animation: false,
      responsive: false,
      devicePixelRatio: 1,
      layout: { padding: { left: 0, top: PAD_T, right: PAD_R, bottom: 0 } },
      plugins: { legend: { display: false }, tooltip: { enabled: false } },
      scales: {
        x: {
          type: 'linear', reverse: true, min: p.xMin, max: p.xMax,
          afterBuildTicks: (s: any) => { s.ticks = p.xTicks.map((v) => ({ value: v })); },
          afterFit: (s: any) => { s.height = PAD_B; },
          grid: { display: false, drawTicks: false },
          border: { display: false },
          ticks: { autoSkip: false, maxRotation: 0, padding: 8, color: '#111', font: { family: FONT, size: 16 }, callback: (v: any) => String(v) },
          title: { display: true, text: 'Binding Energy (eV)', color: '#111', font: { family: FONT, size: 24 }, padding: { top: 0, bottom: 15 } },
        },
        y: {
          type: 'linear', min: p.yMin, max: p.yMax,
          afterBuildTicks: (s: any) => { s.ticks = p.yTicks.map((v) => ({ value: v })); },
          afterFit: (s: any) => { s.width = PAD_L; },
          grid: { display: false, drawTicks: false },
          border: { display: false },
          ticks: { autoSkip: false, padding: 9, color: '#111', font: { family: FONT, size: 16 }, callback: (v: any) => String(v) },
          title: { display: true, text: 'Intensity (a.u)', color: '#111', font: { family: FONT, size: 24 }, padding: { top: 13, bottom: 0 } },
        },
      },
    },
    plugins: [decor(p)],
  };
}

function XpsPanel({ p }: { p: Panel }) {
  const ref = useRef<HTMLCanvasElement>(null);
  useEffect(() => {
    const chart = new Chart(ref.current as HTMLCanvasElement, makeConfig(p));
    return () => chart.destroy();
  }, [p]);
  const cw = p.W + PAD_L + PAD_R;
  const ch = p.H + PAD_T + PAD_B;
  return (
    <canvas ref={ref} width={cw} height={ch}
      style={{ position: 'absolute', left: p.L - PAD_L, top: p.T - PAD_T, width: cw, height: ch }} />
  );
}

const LH = 64;
const txt = (extra: React.CSSProperties): React.CSSProperties => ({
  position: 'absolute', fontFamily: SERIF, fontSize: 44, lineHeight: `${LH}px`, height: LH, color: '#111', ...extra,
});
const sub: React.CSSProperties = { fontSize: '0.6em', verticalAlign: '-0.25em', lineHeight: 0 };
const sup: React.CSSProperties = { fontSize: '0.6em', verticalAlign: '0.6em', lineHeight: 0 };
const R = (s: string) => <span style={{ color: RED_TXT }}>{s}</span>;
const CJK_RE = /([\u3000-\u9fff\uff00-\uffef]+)/;
const mix = (s: string, size: number) =>
  s.split(CJK_RE).map((part, i) => (CJK_RE.test(part) ? <span key={i} style={{ fontSize: size }}>{part}</span> : part));

export default function App() {
  return (
    <div style={{ position: 'relative', width: 2481, height: 3508, background: '#fff', overflow: 'hidden' }}>
      <style>{`body{margin:0;background:#fff}`}</style>
      {panels.map((p) => <XpsPanel key={p.label} p={p} />)}

      <div style={txt({ left: 398, top: 2300 - LH / 2, width: 1690, textAlign: 'justify', textAlignLast: 'justify' })}>
        {mix('图 8\u00a0 高熵合金在 SRB 溶液中浸泡 24d 后距表面 4nm 处合金元素的 XPS 精细谱及', 48.5)}
      </div>
      <div style={txt({ left: 0, top: 2396 - LH / 2, width: 2480, textAlign: 'center', fontSize: 48.5 })}>峰拟合结果</div>
      <div style={txt({ left: 384, top: 2494 - LH / 2, fontSize: 50, whiteSpace: 'nowrap' })}>
        Fig. 8 XPS fine spectra and peak fitting results of {R('Fe (a), Ni (b), Co (c), Cr (d), W (e),')}
      </div>
      <div style={txt({ left: 0, top: 2593 - LH / 2, width: 2482, textAlign: 'center', whiteSpace: 'nowrap' })}>
        <span style={{ color: RED_TXT, fontSize: 50 }}>Al (f) and O (g) at the depth of 4 nm from the surface of</span>
        <span style={{ fontSize: 45.5 }}> FeNiCoCrW<span style={sub}>0.2</span>Al<span style={sub}>0.1</span> HEA</span>
      </div>
      <div style={txt({ left: 0, top: 2689 - LH / 2, width: 2481, textAlign: 'center' })}>immersed for 24 d</div>

      <div style={txt({ left: 0, top: 2852 - LH / 2, width: 2481, textAlign: 'center' })}>
        {R('表 3')}{'\u00a0'} 检测到的 7 种元素的 XPS 峰位置及其对应的可能氧化态
      </div>
      <div style={txt({ left: 380, top: 2951 - LH / 2, fontSize: 50, whiteSpace: 'nowrap' })}>
        {R('Tab. 3')} XPS peak positions and possible oxidation states of as-detected seven elements
      </div>

      <div style={{ position: 'absolute', left: 676, top: 2997, width: 1192, height: 5, background: '#000' }} />
      <div style={{ position: 'absolute', left: 676, top: 3134, width: 1192, height: 3, background: '#000' }} />
      <div style={{ position: 'absolute', left: 676, top: 3201, width: 1192, height: 4, background: '#000' }} />

      <div style={txt({ left: 699, top: 3040 - LH / 2, color: RED_TXT, fontSize: 45.5 })}>Oxidation state</div>
      <div style={txt({ left: 1055, top: 3040 - LH / 2, color: RED_TXT, fontSize: 45.5 })}>Orbital</div>
      <div style={txt({ left: 1285, top: 3040 - LH / 2, color: RED_TXT, fontSize: 45.5 })}>Energy Peak</div>
      <div style={txt({ left: 1579, top: 3040 - LH / 2, color: RED_TXT, fontSize: 45.5 })}>Energy Peak</div>
      <div style={txt({ left: 1313, top: 3104 - LH / 2 })}>(0 nm)</div>
      <div style={txt({ left: 1608, top: 3104 - LH / 2 })}>(-4 nm)</div>

      <div style={txt({ left: 699, top: 3173 - LH / 2 })}>Fe (Fe<span style={sup}>3+</span>)</div>
      <div style={txt({ left: 1055, top: 3173 - LH / 2 })}>2p3/2</div>
      <div style={txt({ left: 1285, top: 3173 - LH / 2 })}>709.36</div>
      <div style={txt({ left: 1579, top: 3173 - LH / 2 })}>709.83</div>
    </div>
  );
}
